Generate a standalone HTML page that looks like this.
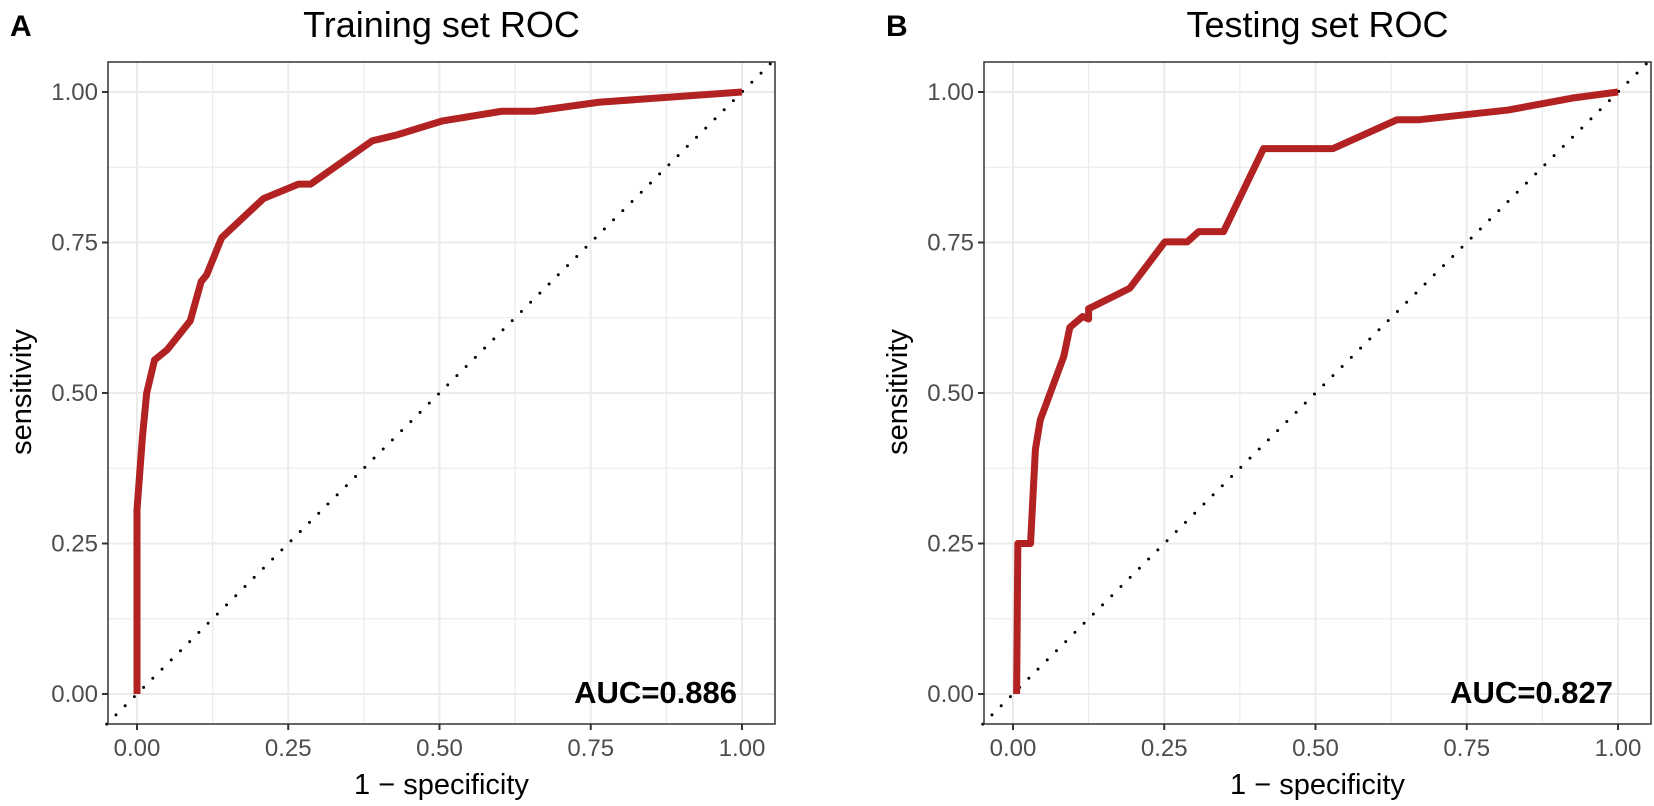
<!DOCTYPE html>
<html><head><meta charset="utf-8"><style>
body{margin:0;background:#fff;width:1654px;height:806px;overflow:hidden}
svg{display:block;font-family:"Liberation Sans",sans-serif}
</style></head><body>
<svg id="c" width="1654" height="806"></svg>
<script>
const ticks=[0,0.25,0.5,0.75,1];
const tickLabels=["0.00","0.25","0.50","0.75","1.00"];
const trainFpr=[0,0,0.009,0.016,0.029,0.033,0.05,0.088,0.106,0.115,0.14,0.209,0.267,0.287,0.389,0.427,0.505,0.603,0.656,0.763,1];
const trainTpr=[0,0.306,0.427,0.5,0.555,0.558,0.572,0.62,0.685,0.696,0.758,0.823,0.847,0.847,0.919,0.928,0.952,0.968,0.968,0.983,1];
const testFpr=[0.006,0.008,0.029,0.037,0.045,0.084,0.094,0.115,0.125,0.125,0.193,0.251,0.288,0.307,0.348,0.414,0.529,0.635,0.672,0.818,0.925,1];
const testTpr=[0,0.25,0.25,0.406,0.455,0.561,0.609,0.627,0.623,0.64,0.674,0.751,0.751,0.768,0.768,0.906,0.906,0.954,0.954,0.97,0.99,1];
const panels=[{off:0,title:"Training set ROC",tag:"A",auc:"AUC=0.886",fx:trainFpr,ty:trainTpr,id:"training"},
{off:876,title:"Testing set ROC",tag:"B",auc:"AUC=0.827",fx:testFpr,ty:testTpr,id:"testing"}];
const NS="http://www.w3.org/2000/svg",svg=document.getElementById('c');
function mk(t,a,p,txt){const e=document.createElementNS(NS,t);for(const k in a)e.setAttribute(k,a[k]);if(txt!=null)e.textContent=txt;(p||svg).appendChild(e);return e;}
panels.forEach(P=>{
 const o=P.off,L=108+o,R=775+o,T=62,B=724;
 const X=v=>137+o+v*605, Y=v=>694-v*602;
 const g=mk('g',{});
 
 
 mk('rect',{x:L,y:T,width:R-L,height:B-T,fill:'#fff'},g);
 for(let i=0;i<=8;i++){const v=i/8,w=i%2?1.2:2;
  mk('line',{x1:X(v),x2:X(v),y1:T,y2:B,stroke:'#ebebeb','stroke-width':w},g);
  mk('line',{x1:L,x2:R,y1:Y(v),y2:Y(v),stroke:'#ebebeb','stroke-width':w},g);}
 const d=mk('line',{x1:X(-0.05),y1:Y(-0.05),x2:X(1.05),y2:Y(1.05),stroke:'#000','stroke-width':3,'stroke-dasharray':'0 13','stroke-linecap':'round'},g);
 
 
 const pts=P.fx.map((v,i)=>X(v)+','+Y(P.ty[i])).join(' ');
 const c=mk('polyline',{points:pts,fill:'none',stroke:'#b22222','stroke-width':7,'stroke-linejoin':'round'},g);
 
 
 mk('rect',{x:L,y:T,width:R-L,height:B-T,fill:'none',stroke:'#333','stroke-width':1.5},g);
 ticks.forEach((v,i)=>{
  mk('line',{x1:X(v),x2:X(v),y1:B,y2:B+6,stroke:'#333','stroke-width':2},g);
  mk('line',{x1:L-6,x2:L,y1:Y(v),y2:Y(v),stroke:'#333','stroke-width':2},g);
  const tx=mk('text',{x:X(v),y:B+32,'text-anchor':'middle','font-size':24,fill:'#4d4d4d'},g,tickLabels[i]);
  
  
  const ty=mk('text',{x:L-10,y:Y(v)+8,'text-anchor':'end','font-size':24,fill:'#4d4d4d'},g,tickLabels[i]);
  
  
 });
 const t=mk('text',{x:(L+R)/2,y:37,'text-anchor':'middle','font-size':36,fill:'#000'},g,P.title);
 
 
 const tg=mk('text',{x:10+o,y:36,'font-size':30,'font-weight':'bold',fill:'#000'},g,P.tag);
 
 
 const xt=mk('text',{x:(L+R)/2,y:794,'text-anchor':'middle','font-size':29,fill:'#000'},g,"1 \u2212 specificity");
 
 
 const yt=mk('text',{x:0,y:0,'text-anchor':'middle','font-size':29,fill:'#000',transform:`translate(${31+o},392) rotate(-90)`},g,"sensitivity");
 
 
 const a=mk('text',{x:X(1)-5,y:703,'text-anchor':'end','font-size':31,'font-weight':'bold',fill:'#000'},g,P.auc);
 
 
});
</script>
</body></html>
